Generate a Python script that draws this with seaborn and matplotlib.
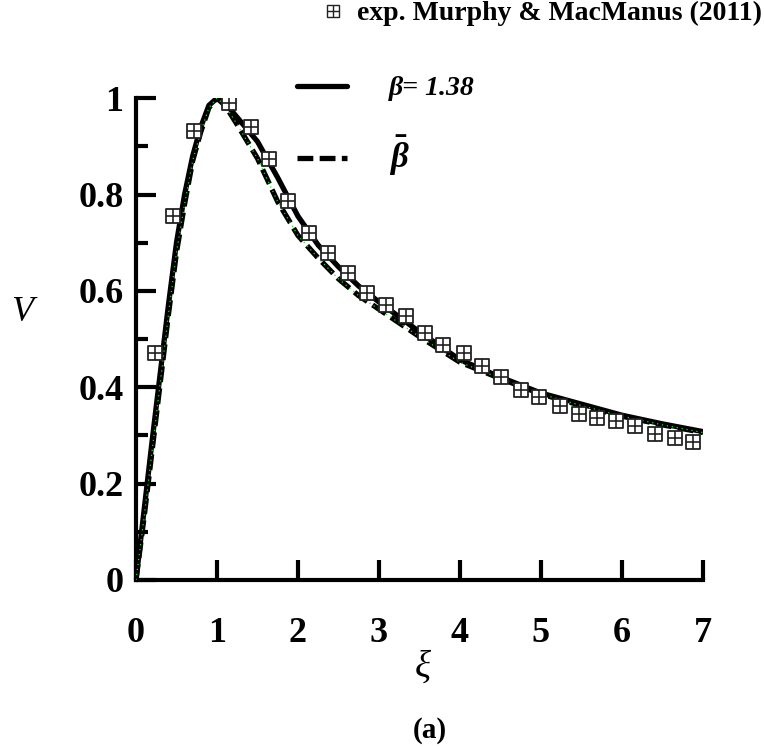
import numpy as np
import pandas as pd
import matplotlib
matplotlib.use("Agg")
import matplotlib.pyplot as plt
import seaborn as sns
from matplotlib.lines import Line2D
from matplotlib.legend_handler import HandlerTuple

# ---- data ----
xi_curve = [0, 0.1, 0.2, 0.3, 0.4, 0.5, 0.6, 0.7, 0.8, 0.9, 1.0, 1.1, 1.25, 1.5,
            1.75, 2.0, 2.25, 2.5, 2.75, 3.0, 3.5, 4.0, 4.5, 5.0, 5.5, 6.0, 6.5, 7.0]
v_beta138 = [0, 0.145, 0.29, 0.43, 0.57, 0.70, 0.80, 0.88, 0.94, 0.985, 1.0, 0.99,
             0.96, 0.91, 0.835, 0.755, 0.695, 0.65, 0.61, 0.577, 0.515, 0.457,
             0.421, 0.388, 0.365, 0.342, 0.324, 0.308]
v_betabar = [0, 0.13, 0.27, 0.41, 0.55, 0.68, 0.78, 0.87, 0.93, 0.98, 1.0, 0.985,
             0.945, 0.875, 0.785, 0.715, 0.668, 0.625, 0.59, 0.562, 0.505, 0.452,
             0.418, 0.386, 0.362, 0.340, 0.322, 0.306]
xi_exp = [0.235, 0.457, 0.716, 1.15, 1.42, 1.64, 1.88, 2.14, 2.37, 2.62, 2.85, 3.09,
          3.33, 3.57, 3.79, 4.05, 4.27, 4.51, 4.75, 4.98, 5.23, 5.47, 5.69, 5.93,
          6.16, 6.41, 6.65, 6.88]
v_exp = [0.471, 0.755, 0.932, 0.990, 0.940, 0.873, 0.786, 0.720, 0.678, 0.637, 0.595,
         0.571, 0.548, 0.512, 0.488, 0.471, 0.444, 0.421, 0.394, 0.380, 0.361, 0.344,
         0.336, 0.330, 0.320, 0.303, 0.295, 0.286]
x_ticks = [0, 1, 2, 3, 4, 5, 6, 7]
y_ticks = [0, 0.2, 0.4, 0.6, 0.8, 1.0]
y_tick_labels = ["0", "0.2", "0.4", "0.6", "0.8", "1"]
y_minor = [0.1, 0.3, 0.5, 0.7, 0.9]
label_solid = "β= 1.38"
label_dashed = r"$\bar{\beta}$"
label_exp = "exp. Murphy & MacManus (2011)"

sns.set_theme(style="ticks")
plt.rcParams["font.family"] = ["Liberation Serif", "DejaVu Serif"]
plt.rcParams["mathtext.fontset"] = "custom"
plt.rcParams["mathtext.it"] = "Liberation Serif:italic:bold"
plt.rcParams["mathtext.rm"] = "Liberation Serif:bold"
plt.rcParams["text.color"] = "black"
plt.rcParams["axes.labelcolor"] = "black"

fig = plt.figure(figsize=(7.64, 7.47), dpi=100)
ax = fig.add_axes([0.178, 0.2236, 0.742, 0.645])

curves = pd.DataFrame({"xi": xi_curve, "b138": v_beta138, "bbar": v_betabar})
exp = pd.DataFrame({"xi": xi_exp, "V": v_exp})

sns.lineplot(data=curves, x="xi", y="b138", ax=ax, color="black", lw=3.8,
             sort=False, zorder=3)
sns.lineplot(data=curves, x="xi", y="bbar", ax=ax, color="black", lw=3.8,
             sort=False, zorder=3)
ax.lines[-1].set_dashes((3.0, 1.2))
sns.lineplot(data=curves, x="xi", y="bbar", ax=ax, color="#22dd22", lw=0.9,
             sort=False, zorder=4)
ax.lines[-1].set_dashes((1.0, 3.0))

sns.scatterplot(data=exp, x="xi", y="V", ax=ax, marker="s", s=90,
                facecolor="white", edgecolor="#222222", linewidth=1.3, zorder=5)
sns.scatterplot(data=exp, x="xi", y="V", ax=ax, marker="+", s=90,
                color="#222222", linewidth=1.2, zorder=6)

ax.set_xlim(0, 7)
ax.set_ylim(0, 1)
for s in ["top", "right"]:
    ax.spines[s].set_visible(False)
for s in ["left", "bottom"]:
    ax.spines[s].set_linewidth(3)
    ax.spines[s].set_color("black")

ax.set_xticks(x_ticks)
ax.set_xticklabels([str(t) for t in x_ticks])
ax.set_yticks(y_ticks)
ax.set_yticklabels(y_tick_labels)
ax.set_yticks(y_minor, minor=True)
ax.tick_params(axis="both", which="major", direction="in", width=3, length=14.5,
               color="black", labelsize=26, labelcolor="black")
ax.tick_params(axis="y", which="minor", direction="in", width=3, length=8.5,
               color="black")
ax.tick_params(axis="x", pad=27)
ax.tick_params(axis="y", pad=9)
for lab in ax.get_xticklabels() + ax.get_yticklabels():
    lab.set_fontweight("bold")

ax.set_xlabel("ξ", fontsize=27, fontstyle="italic")
ax.xaxis.set_label_coords(0.506, -0.145)
ax.set_ylabel("V", fontsize=26, fontstyle="italic", rotation=0, va="center", ha="center")
ax.yaxis.set_label_coords(-0.201, 0.555)

fig.text(430 / 764, 1 - 730 / 747, "(a)", fontsize=21, fontweight="bold",
         ha="center", va="center")

h_solid = Line2D([], [], color="black", lw=3.8)
h_dash = Line2D([], [], color="black", lw=3.8, dashes=(3.0, 1.2))
leg1 = ax.legend([h_solid, h_dash], [label_solid, label_dashed],
                 loc="upper left", bbox_to_anchor=(297 / 764, 1 - 76 / 747),
                 bbox_transform=fig.transFigure, frameon=False, borderpad=0,
                 borderaxespad=0, handlelength=1.8, handletextpad=1.5,
                 labelspacing=1.15, prop={"size": 20, "style": "italic",
                                          "weight": "bold"})
leg1.get_texts()[1].set_fontsize(25)
ax.add_artist(leg1)

h_sq = Line2D([], [], marker="s", ls="none", markersize=8, markerfacecolor="white",
              markeredgecolor="#222222", markeredgewidth=1.0)
h_pl = Line2D([], [], marker="+", ls="none", markersize=8, color="#222222",
              markeredgewidth=1.0)
leg2 = ax.legend([(h_sq, h_pl)], [label_exp],
                 handler_map={tuple: HandlerTuple(ndivide=1, pad=0)},
                 loc="upper right", bbox_to_anchor=(762 / 764, 1 - 1 / 747),
                 bbox_transform=fig.transFigure, frameon=False, borderpad=0,
                 borderaxespad=0, handlelength=0.8, handletextpad=0.45,
                 prop={"size": 20, "weight": "bold"})

fig.savefig("out.png", dpi=100)
